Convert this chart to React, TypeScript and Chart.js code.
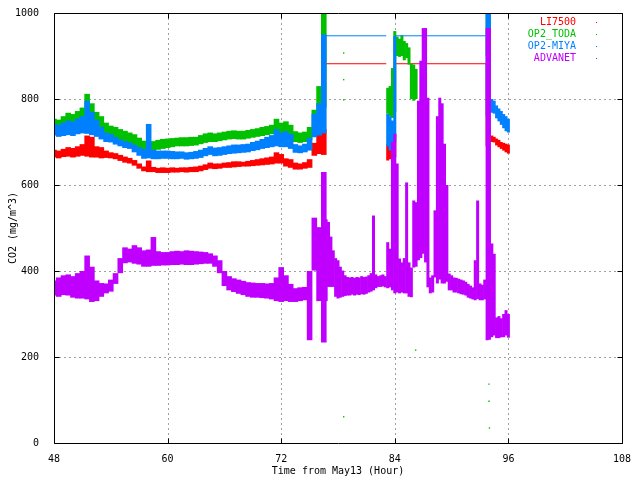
import { useEffect, useRef } from 'react';
import { Chart, registerables } from 'chart.js';

Chart.register(...registerables);

// tick labels
const xTicks = [48, 60, 72, 84, 96, 108];
const yTicks = [0, 200, 400, 600, 800, 1000];

const seriesNames = ['LI7500', 'OP2_TODA', 'OP2-MIYA', 'ADVANET'];
const seriesColors = ['#ff0000', '#00c000', '#0080ff', '#c000ff'];

// 48 .. 76.5 h, every half hour: spread (low / high) of each sensor
const hoursA = [
  48, 48.5, 49, 49.5, 50, 50.5, 51, 51.5, 52, 52.5,
  53, 53.5, 54, 54.5, 55, 55.5, 56, 56.5, 57, 57.5,
  58, 58.5, 59, 59.5, 60, 60.5, 61, 61.5, 62, 62.5,
  63, 63.5, 64, 64.5, 65, 65.5, 66, 66.5, 67, 67.5,
  68, 68.5, 69, 69.5, 70, 70.5, 71, 71.5, 72, 72.5,
  73, 73.5, 74, 74.5, 75, 75.5, 76, 76.5,
];
const redHiA = [
  682, 680, 684, 688, 686, 690, 695, 715, 712, 690,
  688, 680, 676, 674, 670, 666, 663, 658, 650, 643,
  657, 642, 640, 641, 640, 641, 640, 641, 641, 642,
  643, 645, 648, 652, 650, 650, 652, 653, 655, 655,
  654, 656, 658, 660, 662, 664, 666, 676, 672, 662,
  660, 652, 650, 653, 660, 698, 726, 730,
];
const redLoA = [
  664, 662, 665, 666, 664, 666, 668, 666, 664, 664,
  662, 663, 662, 660, 656, 652, 650, 645, 638, 632,
  630, 630, 628, 628, 628, 629, 629, 630, 629, 630,
  630, 632, 635, 638, 637, 638, 640, 640, 641, 642,
  643, 643, 644, 645, 646, 647, 648, 650, 650, 643,
  640, 636, 636, 638, 640, 668, 672, 670,
];
const greenHiA = [
  754, 752, 760, 768, 765, 772, 780, 812, 790, 770,
  760, 745, 738, 735, 730, 726, 722, 718, 710, 703,
  700, 702, 705, 707, 708, 709, 710, 711, 711, 712,
  712, 716, 720, 722, 720, 722, 724, 726, 727, 726,
  726, 728, 730, 732, 735, 737, 740, 754, 745, 748,
  740, 725, 722, 724, 735, 775, 830, 1000,
];
const greenLoA = [
  728, 726, 730, 735, 732, 738, 742, 745, 740, 735,
  725, 715, 712, 708, 704, 700, 696, 692, 685, 680,
  678, 680, 682, 684, 686, 688, 690, 690, 690, 691,
  692, 695, 698, 700, 700, 702, 704, 706, 707, 706,
  706, 708, 710, 712, 714, 716, 718, 720, 718, 718,
  712, 700, 698, 700, 705, 720, 740, 780,
];
const blueHiA = [
  742, 740, 745, 750, 748, 755, 760, 796, 770, 752,
  735, 722, 719, 712, 706, 702, 699, 694, 688, 684,
  742, 682, 680, 680, 680, 679, 678, 678, 676, 677,
  679, 682, 686, 690, 687, 688, 690, 692, 694, 694,
  695, 696, 700, 703, 707, 712, 716, 730, 722, 725,
  719, 695, 692, 696, 710, 766, 790, 950,
];
const blueLoA = [
  715, 712, 714, 716, 714, 718, 720, 719, 716, 712,
  706, 700, 699, 694, 690, 686, 684, 676, 668, 661,
  662, 660, 660, 661, 661, 660, 660, 661, 659, 660,
  661, 663, 667, 670, 667, 668, 670, 672, 673, 674,
  675, 676, 679, 681, 684, 686, 688, 690, 688, 688,
  684, 675, 674, 676, 680, 711, 715, 720,
];
const purpleHiA = [
  378, 385, 390, 392, 388, 395, 400, 436, 410, 378,
  372, 371, 380, 395, 430, 455, 452, 460, 455, 448,
  450, 479, 446, 444, 444, 446, 447, 446, 448, 447,
  446, 445, 444, 441, 436, 425, 400, 388, 383, 380,
  377, 374, 373, 372, 372, 371, 372, 385, 409, 390,
  370, 360, 362, 363, 400, 524, 502, 630,
];
const purpleLoA = [
  343, 340, 344, 343, 338, 336, 336, 334, 328, 330,
  340, 348, 352, 370, 395, 418, 420, 417, 415, 410,
  410, 412, 412, 413, 413, 414, 414, 415, 414, 414,
  415, 416, 417, 417, 410, 395, 365, 355, 351, 347,
  344, 340, 338, 338, 337, 336, 334, 330, 328, 330,
  328, 328, 330, 332, 239, 401, 330, 234,
];

// ADVANET 76.75 .. 96 h, every quarter hour
const hoursB = [
  76.75, 77, 77.25, 77.5, 77.75, 78, 78.25, 78.5, 78.75, 79,
  79.25, 79.5, 79.75, 80, 80.25, 80.5, 80.75, 81, 81.25, 81.5,
  81.75, 82, 82.25, 82.5, 82.75, 83, 83.25, 83.5, 83.75, 84,
  84.25, 84.5, 84.75, 85, 85.25, 85.5, 85.75, 86, 86.25, 86.5,
  86.75, 87, 87.25, 87.5, 87.75, 88, 88.25, 88.5, 88.75, 89,
  89.25, 89.5, 89.75, 90, 90.25, 90.5, 90.75, 91, 91.25, 91.5,
  91.75, 92, 92.25, 92.5, 92.75, 93, 93.25, 93.5, 93.75, 94,
  94.25, 94.5, 94.75, 95, 95.25, 95.5, 95.75, 96,
];
const purpleHiB = [
  520, 514, 480, 448, 430, 425, 410, 401, 390, 386,
  385, 386, 384, 386, 385, 388, 386, 387, 390, 395,
  529, 392, 388, 390, 392, 388, 467, 452, 700, 719,
  650, 429, 420, 430, 606, 420, 408, 564, 560, 796,
  889, 965, 965, 803, 385, 390, 541, 760, 803, 790,
  696, 600, 394, 390, 385, 384, 382, 380, 378, 375,
  370, 366, 362, 425, 564, 371, 368, 380, 965, 965,
  464, 440, 292, 295, 290, 300, 309, 300,
];
const purpleLoB = [
  330, 363, 363, 363, 340, 336, 338, 340, 342, 343,
  343, 345, 343, 345, 344, 346, 345, 347, 350, 352,
  355, 360, 363, 363, 364, 362, 360, 362, 355, 348,
  350, 348, 350, 348, 348, 340, 339, 408, 410, 425,
  430, 440, 420, 362, 348, 350, 385, 371, 380, 371,
  371, 375, 355, 355, 350, 350, 348, 346, 345, 343,
  338, 336, 334, 332, 335, 332, 332, 334, 239, 240,
  246, 250, 244, 244, 246, 246, 250, 245,
];

// burst of the open-path sensors around 83-86 h
const hoursGap = [83.25, 83.5, 83.75, 84, 84.25, 84.5, 84.75, 85, 85.25, 85.5, 85.75, 86, 86.25];
const greenHiGap = [826, 830, 872, 958, 945, 940, 948, 935, 930, 920, 882, 880, 870];
const greenLoGap = [766, 760, 756, 770, 900, 898, 900, 890, 895, 880, 800, 796, 800];
const blueHiGap = [766, 760, 750, 947];
const blueLoGap = [690, 680, 690, 700];
const redHiGap = [696, 690, 700, 720];
const redLoGap = [657, 660, 657, 665];

// tail 93.75 .. 96 h
const hoursEnd = [93.75, 94, 94.25, 94.5, 94.75, 95, 95.25, 95.5, 95.75, 96];
const redHiEnd = [882, 730, 715, 712, 708, 705, 700, 698, 696, 694];
const redLoEnd = [690, 700, 700, 699, 692, 688, 684, 680, 676, 673];
const blueHiEnd = [1000, 1000, 800, 796, 785, 778, 772, 765, 760, 754];
const blueLoEnd = [760, 770, 768, 766, 755, 748, 740, 732, 725, 722];
const greenHiEnd = [1000, 980];
const greenLoEnd = [900, 860];

// held values while the open-path sensors were out
const flatHours = [76.63, 83.1, 83.6, 84.1, 93.7];
const redFlat = [882, 882, null, 882, 882];
const blueFlat = [947, 947, null, 947, 947];

// stray OP2_TODA readings
const greenStrayHours = [78.6, 78.6, 78.6, 78.6, 86.2, 93.95, 93.95, 94.0];
const greenStrayValues = [907, 845, 798, 61, 216, 137, 97, 35];

const MONO = 'DejaVu Sans Mono';

const bars = (hours: number[], lo: number[], hi: number[]) =>
  hours.slice(0, hi.length).map((x, i) => ({ x, y: [lo[i], hi[i]] }));

const points = (hours: number[], vals: (number | null)[]) => hours.map((x, i) => ({ x, y: vals[i] }));

const gnuplotFrame = {
  id: 'gnuplotFrame',
  beforeDatasetsDraw(chart: any) {
    const { ctx, chartArea: a, scales } = chart;
    ctx.save();
    ctx.strokeStyle = '#a0a0a0';
    ctx.lineWidth = 1;
    ctx.setLineDash([2, 3]);
    ctx.beginPath();
    xTicks.slice(1, -1).forEach((t) => {
      const px = Math.round(scales.x.getPixelForValue(t)) + 0.5;
      ctx.moveTo(px, a.top);
      ctx.lineTo(px, a.bottom);
    });
    yTicks.slice(1, -1).forEach((v) => {
      const py = Math.round(scales.y.getPixelForValue(v)) + 0.5;
      ctx.moveTo(a.left, py);
      ctx.lineTo(a.right, py);
    });
    ctx.stroke();
    ctx.restore();
  },
  afterDatasetsDraw(chart: any) {
    const { ctx, chartArea: a, scales } = chart;
    const l = Math.round(a.left) + 0.5;
    const r = Math.round(a.right) + 0.5;
    const t = Math.round(a.top) + 0.5;
    const b = Math.round(a.bottom) + 0.5;
    ctx.save();
    ctx.strokeStyle = '#000';
    ctx.lineWidth = 1;
    ctx.beginPath();
    ctx.rect(l, t, r - l, b - t);
    xTicks.forEach((v) => {
      const px = Math.round(scales.x.getPixelForValue(v)) + 0.5;
      ctx.moveTo(px, b);
      ctx.lineTo(px, b - 5);
      ctx.moveTo(px, t);
      ctx.lineTo(px, t + 5);
    });
    yTicks.forEach((v) => {
      const py = Math.round(scales.y.getPixelForValue(v)) + 0.5;
      ctx.moveTo(l, py);
      ctx.lineTo(l + 5, py);
      ctx.moveTo(r, py);
      ctx.lineTo(r - 5, py);
    });
    ctx.stroke();

    // legend
    ctx.font = `10px "${MONO}"`;
    ctx.textAlign = 'right';
    ctx.textBaseline = 'middle';
    seriesNames.forEach((name, i) => {
      const y = 22 + i * 12;
      ctx.fillStyle = seriesColors[i];
      ctx.fillText(name, 576, y);
      ctx.fillRect(596, y, 1, 1);
    });

    // axis titles
    ctx.fillStyle = '#000';
    ctx.textAlign = 'center';
    ctx.fillText('Time from May13 (Hour)', 338, 471);
    ctx.translate(13, 228);
    ctx.rotate(-Math.PI / 2);
    ctx.fillText('CO2 (mg/m^3)', 0, 0);
    ctx.restore();
  },
};

const barSet = (label: string, color: string, order: number, data: any[], thickness: number) => ({
  type: 'bar',
  label,
  data,
  backgroundColor: color,
  borderWidth: 0,
  barThickness: thickness,
  inflateAmount: 0,
  grouped: false,
  order,
});

const App = () => {
  const canvasRef = useRef<HTMLCanvasElement | null>(null);

  useEffect(() => {
    const canvas = canvasRef.current;
    if (!canvas) return;

    const [red, green, blue, purple] = seriesColors;

    const chart = new Chart(canvas, {
      type: 'bar',
      data: {
        datasets: [
          barSet('ADVANET', purple, 1, bars(hoursA, purpleLoA, purpleHiA), 5.6),
          barSet('ADVANET', purple, 1, bars(hoursB, purpleLoB, purpleHiB), 3),
          barSet('OP2-MIYA', blue, 2, bars(hoursA, blueLoA, blueHiA), 5.6),
          barSet('OP2-MIYA', blue, 2, bars(hoursGap, blueLoGap, blueHiGap), 3),
          barSet('OP2-MIYA', blue, 2, bars(hoursEnd, blueLoEnd, blueHiEnd), 3),
          {
            type: 'line',
            label: 'OP2-MIYA',
            data: points(flatHours, blueFlat),
            borderColor: blue,
            borderWidth: 1,
            pointRadius: 0,
            spanGaps: false,
            order: 2,
          },
          barSet('OP2_TODA', green, 3, bars(hoursA, greenLoA, greenHiA), 5.6),
          barSet('OP2_TODA', green, 3, bars(hoursGap, greenLoGap, greenHiGap), 3),
          barSet('OP2_TODA', green, 3, bars(hoursEnd, greenLoEnd, greenHiEnd), 3),
          {
            type: 'line',
            label: 'OP2_TODA',
            data: points(greenStrayHours, greenStrayValues),
            showLine: false,
            pointStyle: 'rect',
            pointRadius: 1,
            borderWidth: 0,
            backgroundColor: green,
            order: 3,
          },
          barSet('LI7500', red, 4, bars(hoursA, redLoA, redHiA), 5.6),
          barSet('LI7500', red, 4, bars(hoursGap, redLoGap, redHiGap), 3),
          barSet('LI7500', red, 4, bars(hoursEnd, redLoEnd, redHiEnd), 3),
          {
            type: 'line',
            label: 'LI7500',
            data: points(flatHours, redFlat),
            borderColor: red,
            borderWidth: 1,
            pointRadius: 0,
            spanGaps: false,
            order: 4,
          },
        ],
      },
      options: {
        animation: false,
        responsive: true,
        maintainAspectRatio: false,
        layout: { padding: { top: 12, right: 18, left: 0, bottom: 0 } },
        plugins: {
          legend: { display: false },
          tooltip: { enabled: false },
        },
        scales: {
          x: {
            type: 'linear',
            min: xTicks[0],
            max: xTicks[xTicks.length - 1],
            offset: false,
            grid: { display: false },
            border: { display: false },
            ticks: {
              stepSize: 12,
              color: '#000',
              padding: 2,
              maxRotation: 0,
              font: { family: MONO, size: 10 },
              callback: (v: any) => String(v),
            },
            afterFit: (scale: any) => {
              scale.height = 37;
            },
          },
          y: {
            min: yTicks[0],
            max: yTicks[yTicks.length - 1],
            grid: { display: false },
            border: { display: false },
            ticks: {
              stepSize: 200,
              color: '#000',
              padding: 7,
              font: { family: MONO, size: 10 },
              callback: (v: any) => String(v),
            },
            afterFit: (scale: any) => {
              scale.width = 54;
            },
          },
        },
      },
      plugins: [gnuplotFrame],
    });

    return () => {
      chart.destroy();
    };
  }, []);

  return (
    <div style={{ position: 'fixed', left: 0, top: 0, width: 640, height: 480, background: '#fff' }}>
      <canvas ref={canvasRef} />
    </div>
  );
};

export default App;
